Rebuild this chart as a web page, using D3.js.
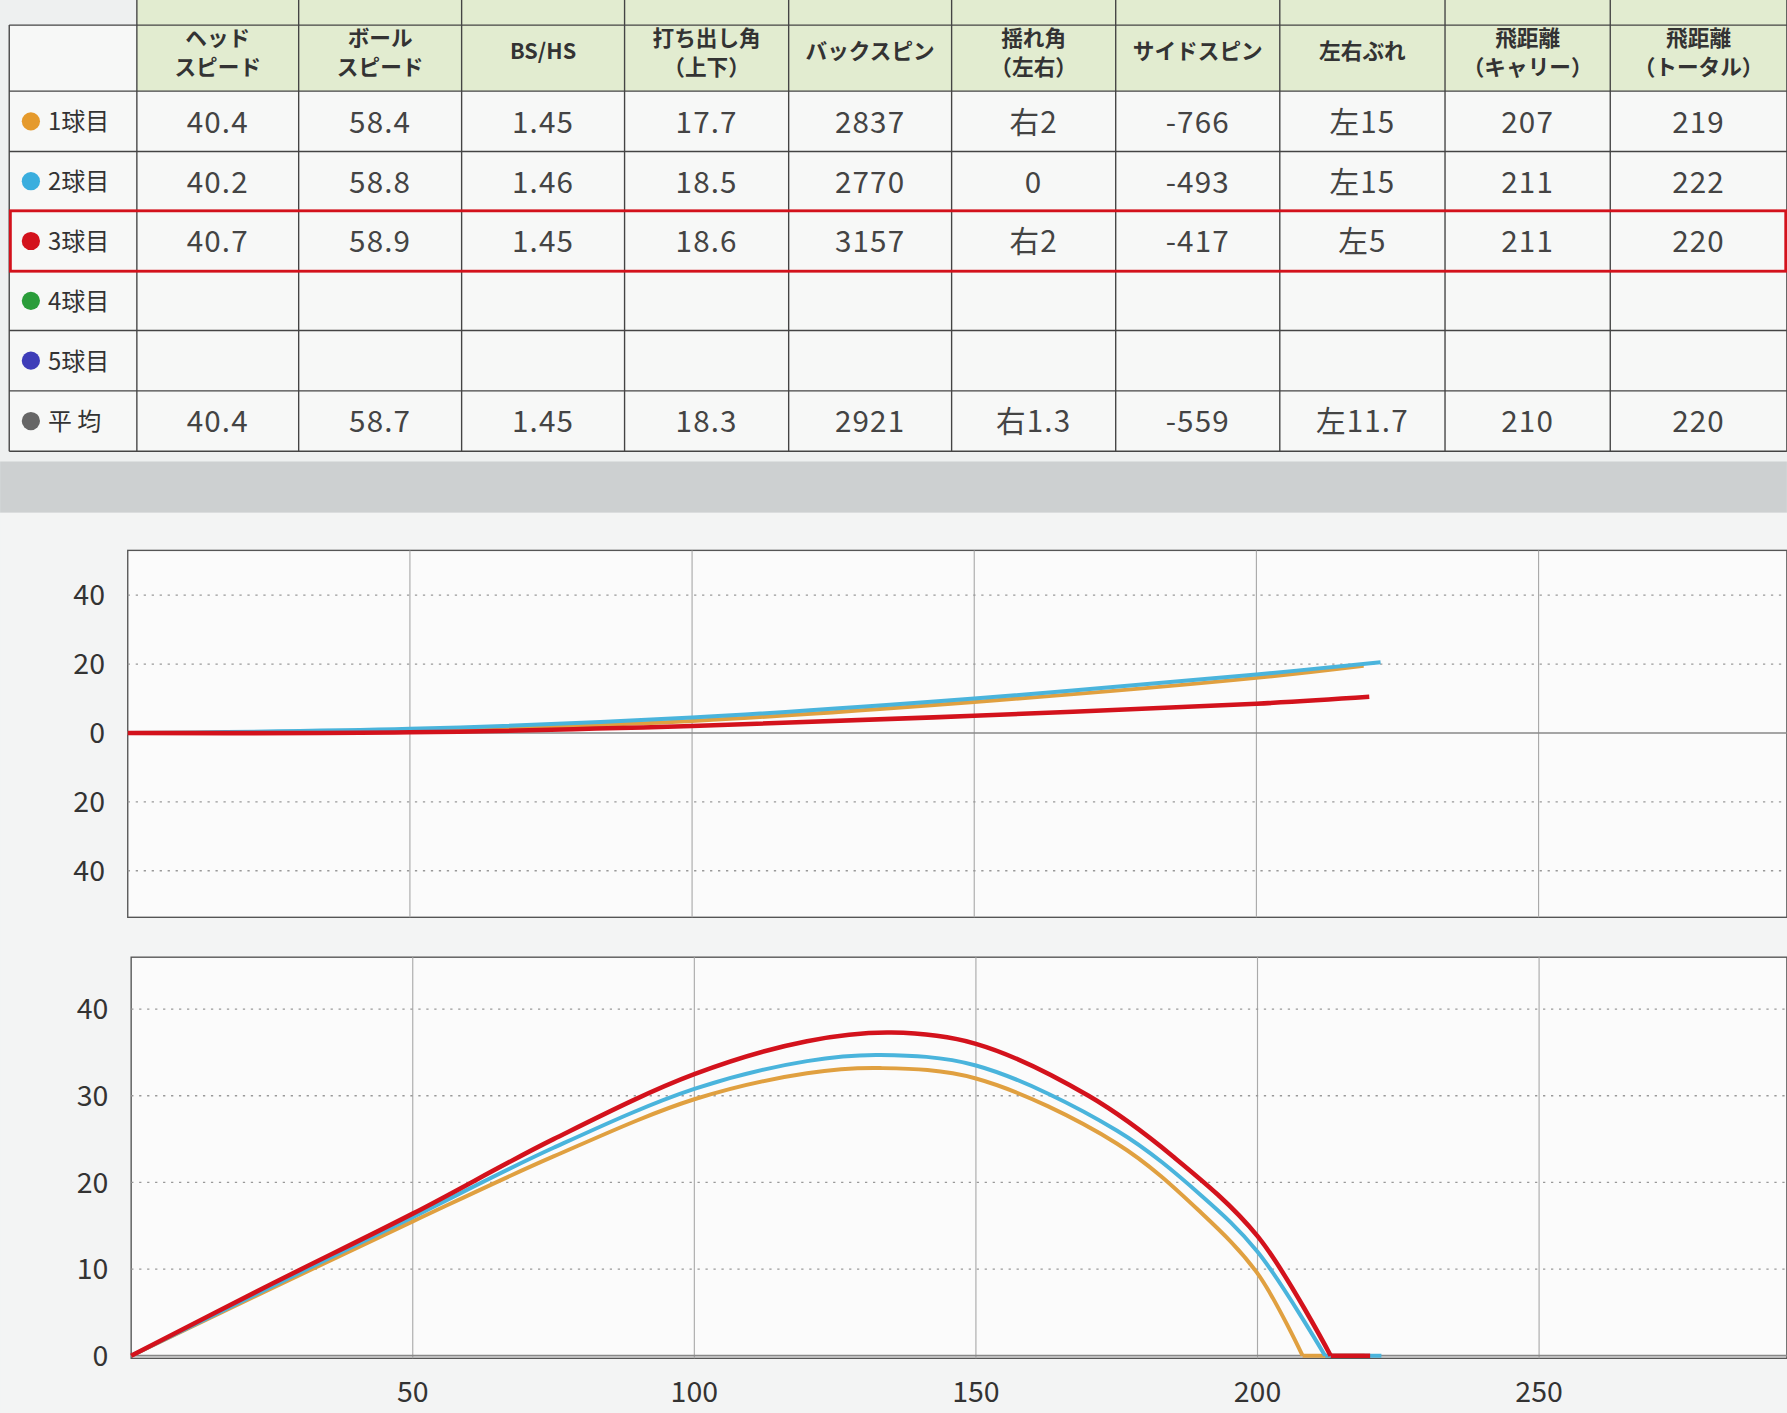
<!DOCTYPE html>
<html><head><meta charset="utf-8">
<script src="https://cdn.jsdelivr.net/npm/d3@7"></script>
<style>body{margin:0;background:#eef0f0;font-family:"Noto Sans CJK JP","Noto Sans",sans-serif}</style>
</head><body><svg id="c" width="1787" height="1413" viewBox="0 0 1568 1240"></svg>
<script>
let headers = ["ヘッド\nスピード","ボール\nスピード","BS/HS","打ち出し角\n（上下）","バックスピン","揺れ角\n（左右）","サイドスピン","左右ぶれ","飛距離\n（キャリー）","飛距離\n（トータル）"]
let rowNames = ["1球目","2球目","3球目","4球目","5球目","平 均"]
let rowColors = ["#e59a2c","#3aaede","#d3121c","#2a9d3a","#3e3db8","#666666"]
let rowValues = [
  ["40.4","58.4","1.45","17.7","2837","右2","-766","左15","207","219"],
  ["40.2","58.8","1.46","18.5","2770","0","-493","左15","211","222"],
  ["40.7","58.9","1.45","18.6","3157","右2","-417","左5","211","220"],
  [],[],
  ["40.4","58.7","1.45","18.3","2921","右1.3","-559","左11.7","210","220"]
]
let shotColors = ["#e0a040","#4ab4dc","#d3121c"]
// lateral (top chart): [distance, offset]
let lateral = [
  [[0,0],[50,0.8],[100,3.5],[150,9],[200,16],[219,19.5]],
  [[0,0],[50,1.2],[100,4.5],[150,10],[200,17],[222,20.5]],
  [[0,0],[50,0.2],[100,2],[150,5],[200,8.5],[220,10.5]]
]
// height (bottom chart): flight then roll
let height = [
  [[0,0],[25,7.8],[50,15.5],[75,23],[100,29.6],[120,32.6],[133,33.2],[150,32],[175,24.5],[190,16.5],[200,9.5],[208,0],[219,0]],
  [[0,0],[25,8],[50,16],[75,24],[100,30.8],[120,34],[133,34.7],[150,33.5],[175,26],[190,18.5],[200,12],[212,0],[222,0]],
  [[0,0],[25,8.3],[50,16.4],[75,25],[100,32.5],[120,36.3],[135,37.3],[150,36],[170,30],[185,23],[200,13.8],[213,0],[220,0]]
]
let xTicks = [50,100,150,200,250]
let latTicks = [40,20,0,-20,-40]
let hTicks = [0,10,20,30,40]

let svg = d3.select("#c")
// table
let colX = [8,120,262,405,548,692,835,979,1123,1268,1413,1568]
let rowY = [22,80,133,185,238,290,343,396]
let t = svg.append("g")
t.append("rect").attr("x",8).attr("y",rowY[0]).attr("width",1560).attr("height",rowY[7]-rowY[0]).attr("fill","#f7f8f7")
t.append("rect").attr("x",120).attr("y",0).attr("width",1448).attr("height",rowY[1]).attr("fill","#e2ecd0")
colX.forEach((x,i)=>t.append("line").attr("x1",x).attr("x2",x).attr("y1",i==0?rowY[0]:0).attr("y2",rowY[7]).attr("stroke","#444").attr("stroke-width",1.2))
rowY.forEach((y,i)=>t.append("line").attr("x1",8).attr("x2",1568).attr("y1",y).attr("y2",y).attr("stroke","#444").attr("stroke-width",1.2))
headers.forEach((h,i)=>{
  let lines = h.split("\n"), cx=(colX[i+1]+colX[i+2])/2
  lines.forEach((l,j)=>t.append("text").attr("x",cx).attr("y",(lines.length==1?52:40)+j*26).attr("text-anchor","middle").attr("font-size",19).attr("font-weight","bold").attr("fill","#333").text(l))
})
rowNames.forEach((n,r)=>{
  let cy=(rowY[r+1]+rowY[r+2])/2
  t.append("circle").attr("cx",27).attr("cy",cy).attr("r",8).attr("fill",rowColors[r])
  t.append("text").attr("x",42).attr("y",cy+8).attr("font-size",21).attr("fill","#333").text(n)
  rowValues[r].forEach((v,c)=>t.append("text").attr("x",(colX[c+1]+colX[c+2])/2).attr("y",cy+10).attr("text-anchor","middle").attr("font-size",26).attr("fill","#444").attr("letter-spacing",1).text(v))
})
t.append("rect").attr("x",9).attr("y",rowY[3]).attr("width",1558).attr("height",rowY[4]-rowY[3]).attr("fill","none").attr("stroke","#d3121c").attr("stroke-width",2.5)
// gray band
svg.append("rect").attr("x",0).attr("y",405).attr("width",1568).attr("height",45).attr("fill","#cdd0d1")
svg.append("rect").attr("x",0).attr("y",450).attr("width",1568).attr("height",790).attr("fill","#f3f4f4")

function chart(top,bottom,left,domY,yTicks,data,showX){
  let x = d3.scaleLinear().domain([0,294]).range([left,1568])
  let y = d3.scaleLinear().domain(domY).range([bottom,top])
  let g = svg.append("g")
  g.append("rect").attr("x",left).attr("y",top).attr("width",1568-left).attr("height",bottom-top).attr("fill","#fbfbfb").attr("stroke","#555").attr("stroke-width",1.2)
  xTicks.forEach(v=>g.append("line").attr("x1",x(v)).attr("x2",x(v)).attr("y1",top).attr("y2",bottom).attr("stroke","#aaa"))
  yTicks.forEach(v=>{
    g.append("line").attr("x1",left).attr("x2",1568).attr("y1",y(v)).attr("y2",y(v)).attr("stroke",v==0?"#888":"#999").attr("stroke-dasharray",v==0?null:"2,5").attr("stroke-width",v==0?1.5:1.2)
    g.append("text").attr("x",left-20).attr("y",y(v)+9).attr("text-anchor","end").attr("font-size",25).attr("fill","#333").text(Math.abs(v))
  })
  if(showX) xTicks.forEach(v=>g.append("text").attr("x",x(v)).attr("y",bottom+38).attr("text-anchor","middle").attr("font-size",25).attr("fill","#333").text(v))
  let curve = d3.line().x(d=>x(d[0])).y(d=>y(d[1])).curve(d3.curveCatmullRom)
  let straight = d3.line().x(d=>x(d[0])).y(d=>y(d[1]))
  data.forEach((d,i)=>{
    let land = d.findIndex((p,k)=>k>0 && p[1]==0)
    let flight = land>0 ? d.slice(0,land+1) : d
    let roll = land>0 ? d.slice(land) : []
    g.append("path").attr("d",curve(flight)).attr("fill","none").attr("stroke",shotColors[i]).attr("stroke-width",i==2?4:3.5)
    if(roll.length>1) g.append("path").attr("d",straight(roll)).attr("fill","none").attr("stroke",shotColors[i]).attr("stroke-width",i==2?4:3.5)
  })
}
chart(483,805,112,[-53.5,53],latTicks,lateral,false)
chart(840,1192,115,[-0.3,46],hTicks,height,true)
</script></body></html>
